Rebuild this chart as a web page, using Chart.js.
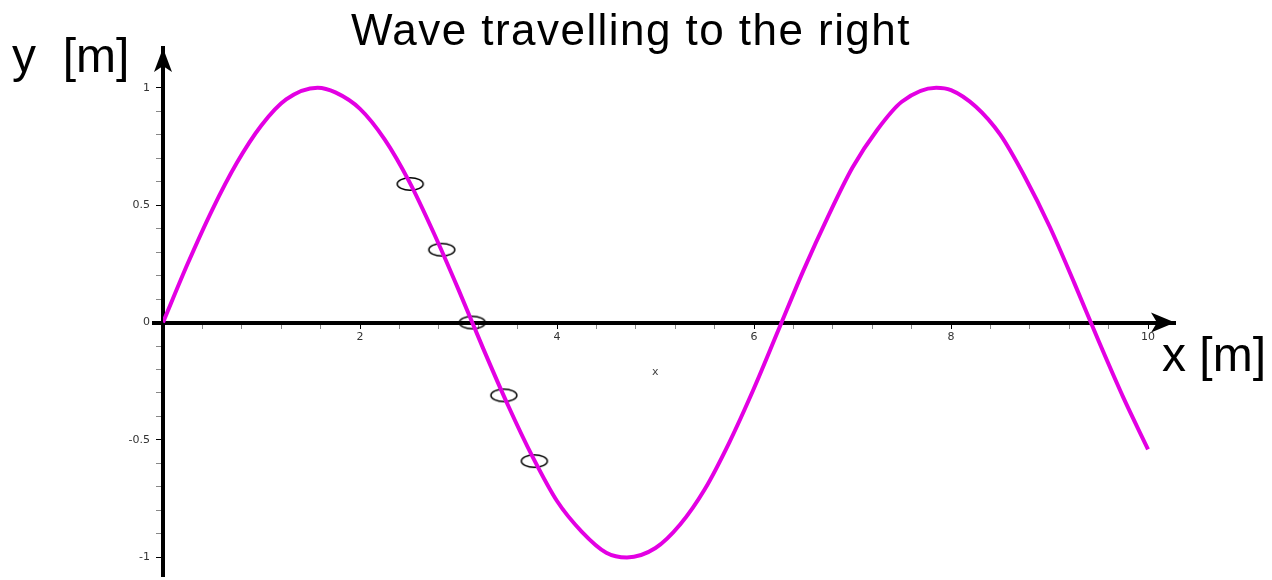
<!DOCTYPE html>
<html><head><meta charset="utf-8">
<script src="https://cdn.jsdelivr.net/npm/chart.js@4.4.1/dist/chart.umd.min.js"></script>
<style>
html,body{margin:0;padding:0;background:#fff;}
#wrap{position:relative;width:1272px;height:580px;overflow:hidden;}
canvas{position:absolute;left:0;top:0;}
.lbl{position:absolute;font-family:"Liberation Sans",Arial,sans-serif;color:#000;line-height:1;white-space:pre;}
</style></head><body>
<div id="wrap">
<canvas id="c" width="1272" height="580"></canvas>
<div class="lbl" id="title" style="left:351px;top:8px;font-size:44px;letter-spacing:1.45px;"></div>
<div class="lbl" style="left:12px;top:32px;font-size:48px;">y  [m]</div>
<div class="lbl" style="left:1162px;top:331px;font-size:48px;">x [m]</div>
<div class="lbl" style="left:652px;top:366px;font-size:11px;color:#444;font-family:'DejaVu Sans',sans-serif;">x</div>
</div>
<script>
// wave
const waveX = [0, 0.25, 0.5, 0.75, 1, 1.25, 1.57, 1.75, 2, 2.25, 2.5, 2.75, 3, 3.25, 3.5, 3.75, 4, 4.25, 4.5, 4.71, 5, 5.25, 5.5, 5.75, 6, 6.25, 6.5, 6.75, 7, 7.25, 7.5, 7.85, 8, 8.25, 8.5, 8.75, 9, 9.25, 9.5, 9.75, 10];
const waveY = [0, 0.25, 0.48, 0.68, 0.84, 0.95, 1.00, 0.98, 0.91, 0.78, 0.60, 0.38, 0.14, -0.11, -0.35, -0.57, -0.76, -0.89, -0.98, -1.00, -0.96, -0.86, -0.71, -0.51, -0.28, -0.03, 0.22, 0.45, 0.66, 0.82, 0.94, 1.00, 0.99, 0.92, 0.80, 0.62, 0.41, 0.17, -0.08, -0.32, -0.54];
// circled particles
const markerX = [2.51, 2.83, 3.14, 3.46, 3.77];
const markerY = [0.59, 0.31, 0.00, -0.31, -0.59];
// ticks
const xMajorTicks = [2, 4, 6, 8, 10];
const xMajorLabels = ['2', '4', '6', '8', '10'];
const xMinorTicks = [0.4, 0.8, 1.2, 1.6, 2.4, 2.8, 3.2, 3.6, 4.4, 4.8, 5.2, 5.6, 6.4, 6.8, 7.2, 7.6, 8.4, 8.8, 9.2, 9.6];
const yMajorTicks = [-1, -0.5, 0, 0.5, 1];
const yMajorLabels = ['-1', '-0.5', '0', '0.5', '1'];
const yMinorTicks = [-0.9, -0.8, -0.7, -0.6, -0.4, -0.3, -0.2, -0.1, 0.1, 0.2, 0.3, 0.4, 0.6, 0.7, 0.8, 0.9];
const titleText = 'Wave travelling to the right';

document.getElementById('title').textContent = titleText;

const eq = (a, b) => Math.abs(a - b) < 1e-9;
const majorIndex = (list, v) => list.findIndex(t => eq(t, v));

// ellipse marker style
const ell = document.createElement('canvas');
ell.width = 30; ell.height = 16;
(function(){
  const g = ell.getContext('2d');
  g.strokeStyle = '#000'; g.lineWidth = 1.4;
  g.beginPath(); g.ellipse(15, 8, 13, 6.2, 0, 0, Math.PI * 2); g.stroke();
})();

const axisArrows = {
  id: 'axisArrows',
  afterDraw(chart) {
    const {ctx, chartArea: a, scales: {x, y}} = chart;
    const x0 = x.getPixelForValue(0), y0 = y.getPixelForValue(0);
    ctx.save();
    ctx.fillStyle = '#000';
    // short stub of the x axis to the left of the y axis
    ctx.fillRect(x0 - 11, Math.round(y0) - 2, 11, 4);
    // y axis runs a little below the chart area
    ctx.fillRect(Math.round(x0) - 2, a.bottom - 1, 4, 7);
    ctx.beginPath();
    ctx.moveTo(x0, a.top); ctx.lineTo(x0 - 9, a.top + 24); ctx.lineTo(x0, a.top + 18); ctx.lineTo(x0 + 9, a.top + 24);
    ctx.closePath(); ctx.fill();
    ctx.beginPath();
    ctx.moveTo(a.right, y0); ctx.lineTo(a.right - 24, y0 - 10); ctx.lineTo(a.right - 18, y0); ctx.lineTo(a.right - 24, y0 + 10);
    ctx.closePath(); ctx.fill();
    ctx.restore();
  }
};

const noPad = s => { s.paddingTop = 0; s.paddingBottom = 0; s.paddingLeft = 0; s.paddingRight = 0; };
const tickFont = {family: '"DejaVu Sans", sans-serif', size: 11};

new Chart(document.getElementById('c'), {
  type: 'line',
  data: {
    datasets: [
      {
        data: waveX.map((v, i) => ({x: v, y: waveY[i]})),
        borderColor: '#e300e3', borderWidth: 4, pointRadius: 0,
        cubicInterpolationMode: 'monotone', fill: false
      },
      {
        data: markerX.map((v, i) => ({x: v, y: markerY[i]})),
        showLine: false, pointStyle: ell, pointRadius: 8, borderColor: '#000', backgroundColor: 'rgba(0,0,0,0)'
      }
    ]
  },
  options: {
    responsive: false, animation: false, devicePixelRatio: 1,
    layout: {padding: {left: 103, right: 97, top: 48, bottom: 3}},
    plugins: {legend: {display: false}, tooltip: {enabled: false}, title: {display: false}},
    scales: {
      x: {
        type: 'linear', position: {y: 0}, min: 0, max: 10.274,
        afterFit: s => { noPad(s); },
        afterBuildTicks: s => { s.ticks = xMajorTicks.concat(xMinorTicks).sort((a, b) => a - b).map(v => ({value: v})); },
        grid: {drawOnChartArea: false, drawTicks: true, tickLength: 4,
          color: c => (c.tick && majorIndex(xMajorTicks, c.tick.value) >= 0) ? '#000' : '#888', lineWidth: 1},
        border: {display: true, color: '#000', width: 4},
        ticks: {autoSkip: false, maxRotation: 0, padding: 4, color: '#333', font: tickFont,
          callback: v => { const i = majorIndex(xMajorTicks, v); return i >= 0 ? xMajorLabels[i] : ''; }}
      },
      y: {
        type: 'linear', position: 'left', min: -1.058, max: 1.169,
        afterFit: s => { s.width = 60; noPad(s); },
        afterBuildTicks: s => { s.ticks = yMajorTicks.concat(yMinorTicks).sort((a, b) => a - b).map(v => ({value: v})); },
        grid: {drawOnChartArea: false, drawTicks: true, tickLength: 7,
          color: c => (c.tick && majorIndex(yMajorTicks, c.tick.value) >= 0) ? '#000' : '#888', lineWidth: 1},
        border: {display: true, color: '#000', width: 4},
        ticks: {autoSkip: false, padding: 6, color: '#333', font: tickFont,
          callback: v => { const i = majorIndex(yMajorTicks, v); return i >= 0 ? yMajorLabels[i] : ''; }}
      }
    }
  },
  plugins: [axisArrows]
});
</script>
</body></html>
